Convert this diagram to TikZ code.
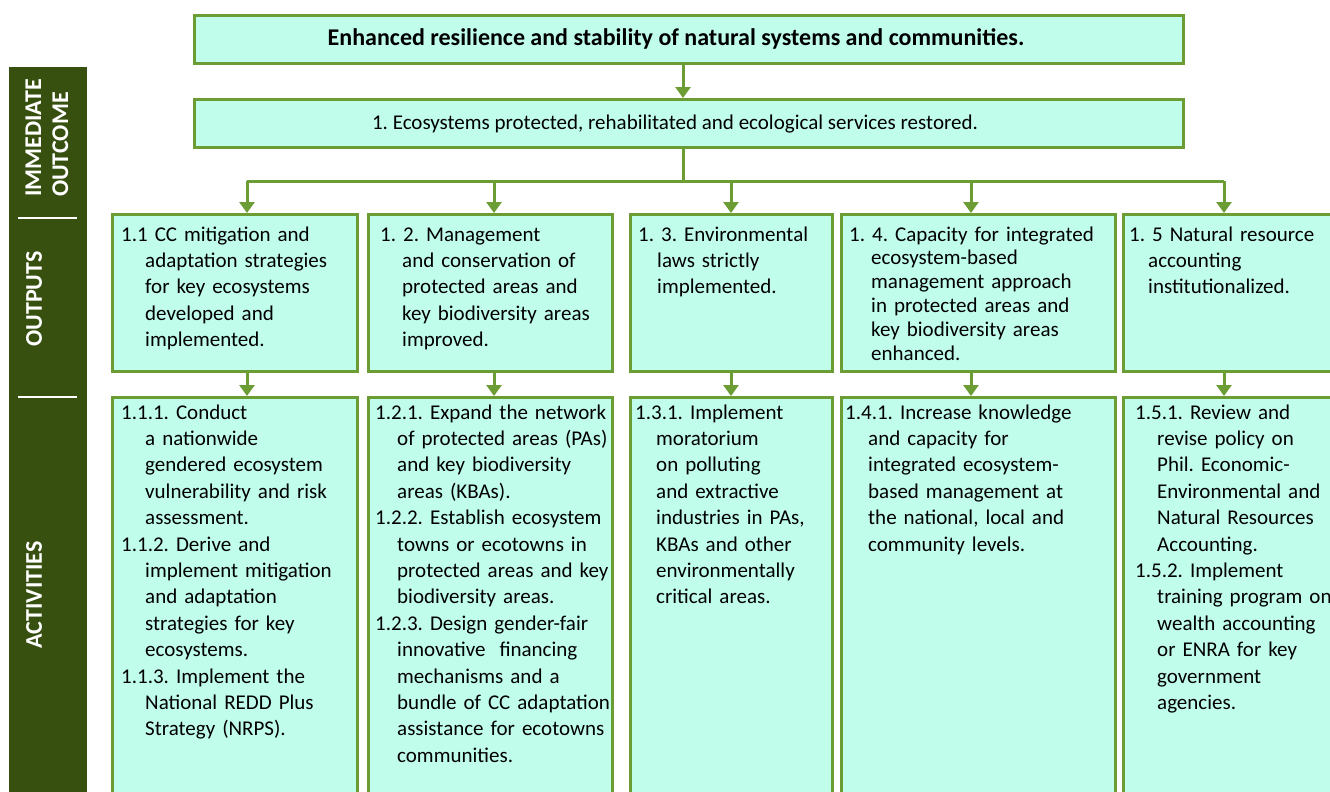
\documentclass[tikz,border=0pt]{standalone}
\usepackage{fontspec}
\setmainfont{Carlito}
\usetikzlibrary{arrows.meta,positioning}
\definecolor{mint}{RGB}{192,253,235}
\definecolor{leaf}{RGB}{108,156,52}
\definecolor{bark}{RGB}{55,80,16}
\newcommand{\ind}{\hspace*{22pt}}
\newcommand{\indw}{\hspace*{24pt}}
\tikzset{
  box/.style={draw=leaf,line width=3pt,fill=mint,anchor=north west,inner sep=0pt},
  txt/.style={anchor=base west,inner sep=0pt,text width=330pt,align=left,
    font=\fontsize{21}{26.4}\selectfont},
  arr/.style={draw=leaf,line width=3pt,-{Triangle[width=15pt,length=11pt]}},
  bus/.style={draw=leaf,line width=3pt},
  side/.style={white,rotate=90,align=left,inner sep=0pt,
    font=\bfseries\fontsize{24}{27}\selectfont},
}

\begin{document}
\frenchspacing
\begin{tikzpicture}[x=1pt,y=-1pt]
    \useasboundingbox (0,0) rectangle (1330,792);
    \fill[white] (0,0) rectangle (1330,792);

    % side bar
    \fill[bark] (9,67) rectangle (87,800);
    \node[side] (immed) at (47,138) {IMMEDIATE\\OUTCOME};
    \node[side] (outs) at (34,299) {OUTPUTS};
    \node[side] (acts) at (34,595) {ACTIVITIES};
    \draw[white,line width=2pt] (18,218) -- (77,218);
    \draw[white,line width=2pt] (18,397) -- (77,397);

    % goal and outcome
    \node[box,minimum width=989pt,minimum height=48pt] (goal) at (193,14) {};
    \node[anchor=base,font=\bfseries\fontsize{24}{28}\selectfont] (goaltxt) at (676,46)
        {Enhanced resilience and stability of natural systems and communities.};
    \node[box,minimum width=989pt,minimum height=48pt] (ecos) at (193,98) {};
    \node[anchor=base,font=\fontsize{21}{26}\selectfont] (ecostxt) at (675,129)
        {1. Ecosystems protected, rehabilitated and ecological services restored.};

    % outputs
    \node[box,minimum width=245pt,minimum height=157pt] (o1) at (111,213) {};
    \node[box,minimum width=244pt,minimum height=157pt] (o2) at (367,213) {};
    \node[box,minimum width=202pt,minimum height=157pt] (o3) at (629,213) {};
    \node[box,minimum width=274pt,minimum height=157pt] (o4) at (840,213) {};
    \node[box,minimum width=230pt,minimum height=157pt] (o5) at (1122,213) {};

    \node[txt] (o1txt) at (121,241) {1.1 CC mitigation and\\\indw adaptation strategies\\\indw for key ecosystems\\\indw developed and\\\indw implemented.};
    \node[txt] (o2txt) at (380,241) {1. 2. Management\\\ind and conservation of\\\ind protected areas and\\\ind key biodiversity areas\\\ind improved.};
    \node[txt] (o3txt) at (638,241) {1. 3. Environmental\\\hspace*{19pt}laws strictly\\\hspace*{19pt}implemented.};
    \node[txt,font=\fontsize{21}{23.8}\selectfont] (o4txt) at (849,241) {1. 4. Capacity for integrated\\\ind ecosystem-based\\\ind management approach\\\ind in protected areas and\\\ind key biodiversity areas\\\ind enhanced.};
    \node[txt] (o5txt) at (1129,241) {1. 5 Natural resource\\\hspace*{19pt}accounting\\\hspace*{19pt}institutionalized.};

    % activities
    \node[box,minimum width=245pt,minimum height=420pt] (a1) at (111,396) {};
    \node[box,minimum width=244pt,minimum height=420pt] (a2) at (367,396) {};
    \node[box,minimum width=202pt,minimum height=420pt] (a3) at (629,396) {};
    \node[box,minimum width=274pt,minimum height=420pt] (a4) at (840,396) {};
    \node[box,minimum width=230pt,minimum height=420pt] (a5) at (1122,396) {};

    \node[txt] (a1txt) at (121,419) {1.1.1. Conduct\\\indw a nationwide\\\indw gendered ecosystem\\\indw vulnerability and risk\\\indw assessment.\\
        1.1.2. Derive and\\\indw implement mitigation\\\indw and adaptation\\\indw strategies for key\\\indw ecosystems.\\
        1.1.3. Implement the\\\indw National REDD Plus\\\indw Strategy (NRPS).};
    \node[txt] (a2txt) at (375,419) {1.2.1. Expand the network\\\ind of protected areas (PAs)\\\ind and key biodiversity\\\ind areas (KBAs).\\
        1.2.2. Establish ecosystem\\\ind towns or ecotowns in\\\ind protected areas and key\\\ind biodiversity areas.\\
        1.2.3. Design gender-fair\\\ind innovative\ \ financing\\\ind mechanisms and a\\\ind bundle of CC adaptation\\\ind assistance for ecotowns\\\ind communities.};
    \node[txt] (a3txt) at (635,419) {1.3.1. Implement\\\hspace*{21pt}moratorium\\\hspace*{21pt}on polluting\\\hspace*{21pt}and extractive\\\hspace*{21pt}industries in PAs,\\\hspace*{21pt}KBAs and other\\\hspace*{21pt}environmentally\\\hspace*{21pt}critical areas.};
    \node[txt] (a4txt) at (845,419) {1.4.1. Increase knowledge\\\hspace*{23pt}and capacity for\\\hspace*{23pt}integrated ecosystem-\\\hspace*{23pt}based management at\\\hspace*{23pt}the national, local and\\\hspace*{23pt}community levels.};
    \node[txt] (a5txt) at (1135,419) {1.5.1. Review and\\\ind revise policy on\\\ind Phil. Economic-\\\ind Environmental and\\\ind Natural Resources\\\ind Accounting.\\
        1.5.2. Implement\\\ind training program on\\\ind wealth accounting\\\ind or ENRA for key\\\ind government\\\ind agencies.};

    % connectors
    \coordinate (hub) at (683,181);
    \coordinate (b1) at (247,181);
    \coordinate (b2) at (494,181);
    \coordinate (b3) at (731,181);
    \coordinate (b4) at (971,181);
    \coordinate (b5) at (1224,181);
    \draw[arr] (goal.south -| hub) -- (ecos.north -| hub);
    \draw[bus] (ecos.south -| hub) -- (hub);
    \draw[bus] (b1) -- (b5);
    \foreach \k in {1,...,5}{
        \draw[arr] (b\k) -- (o\k.north -| b\k);
        \draw[arr] (o\k.south -| b\k) -- (a\k.north -| b\k);
    }
\end{tikzpicture}
\end{document}
